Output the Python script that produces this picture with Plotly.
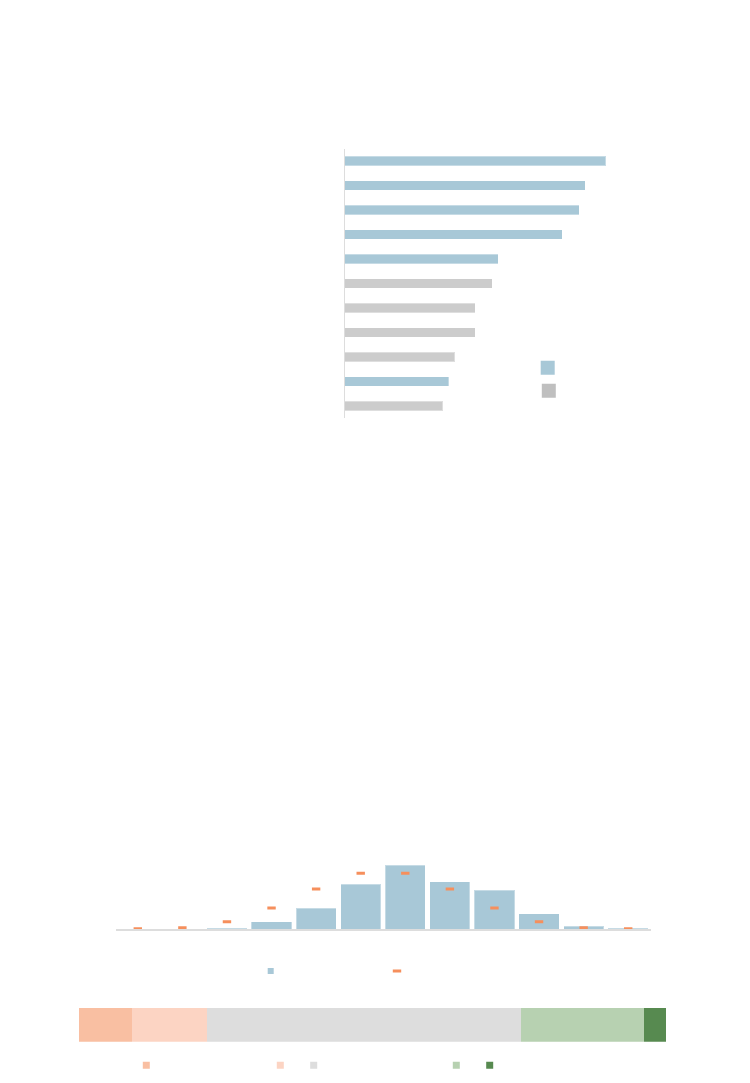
import plotly.graph_objects as go

W, H = 750, 1083
OFF = 8  # page body margin

# ---- Top chart data (horizontal bars) ----
top_categories = ["A", "B", "C", "D", "E", "F", "G", "H", "I", "J", "K"]
top_values = [87, 80.3, 78.3, 72.5, 51.3, 49.3, 43.5, 43.5, 36.8, 34.8, 32.8]
top_group = ["blue", "blue", "blue", "blue", "blue", "gray", "gray", "gray", "gray", "blue", "gray"]

# ---- Histogram data ----
hist_bins = ["b1", "b2", "b3", "b4", "b5", "b6", "b7", "b8", "b9", "b10", "b11", "b12"]
hist_actual = [0, 0, 0.5, 3.0, 8.4, 18.0, 25.7, 19.0, 15.6, 6.2, 1.2, 0.5]
hist_expected = [0.25, 0.65, 3.0, 8.5, 16.1, 22.4, 22.4, 16.1, 8.5, 3.0, 0.65, 0.25]

# ---- Stacked bar data ----
stack_segments = ["s1", "s2", "s3", "s4", "s5"]
stack_values = [9.0, 12.8, 53.5, 20.9, 3.8]

BLUE = "#a8c8d7"
GRAY = "#cccccc"
GRAY_LEG = "#bfbfbf"
ORANGE = "#f68f5c"
STACK_COLORS = ["#f9bfa2", "#fcd4c3", "#dddddd", "#b7d1b1", "#578a50"]
EDGE = dict(width=1, color="rgba(255,255,255,0.35)")


def px_x(p):
    return (p - OFF) / W


def px_y(p):
    return 1 - (p - OFF) / H


fig = go.Figure()

# top chart
for grp, col in [("blue", BLUE), ("gray", GRAY)]:
    ys = [c for c, g in zip(top_categories, top_group) if g == grp]
    xs = [v for v, g in zip(top_values, top_group) if g == grp]
    fig.add_trace(go.Bar(x=xs, y=ys, orientation="h", width=0.37,
                         marker=dict(color=col, line=EDGE),
                         showlegend=False, xaxis="x", yaxis="y"))
for i, col in enumerate([BLUE, GRAY_LEG]):
    fig.add_trace(go.Scatter(x=[None], y=[None], mode="markers", name="",
                             marker=dict(symbol="square", size=14, color=col),
                             xaxis="x", yaxis="y", legend=f"legend{i+2}"))

# histogram
fig.add_trace(go.Bar(x=hist_bins, y=hist_actual, width=0.9,
                     marker=dict(color=BLUE, line=EDGE),
                     showlegend=False, xaxis="x2", yaxis="y2"))
fig.add_trace(go.Scatter(x=hist_bins, y=hist_expected, mode="markers", name="",
                         marker=dict(symbol="line-ew", size=6, color=ORANGE,
                                     line=dict(color=ORANGE, width=3)),
                         xaxis="x2", yaxis="y2", legend="legend5"))
fig.add_trace(go.Scatter(x=[None], y=[None], mode="markers", name="",
                         marker=dict(symbol="square", size=6, color=BLUE),
                         xaxis="x2", yaxis="y2", legend="legend4"))

# stacked bar
for i, (seg, val) in enumerate(zip(stack_segments, stack_values)):
    fig.add_trace(go.Bar(x=[val], y=["all"], orientation="h", width=1,
                         marker=dict(color=STACK_COLORS[i], line=dict(width=0)),
                         showlegend=False, xaxis="x3", yaxis="y3"))
    fig.add_trace(go.Scatter(x=[None], y=[None], mode="markers", name="",
                             marker=dict(symbol="square", size=7, color=STACK_COLORS[i]),
                             xaxis="x3", yaxis="y3", legend=f"legend{i+6}"))

hidden = dict(showticklabels=False, showgrid=False, zeroline=False, ticks="")

layout = dict(
    width=W, height=H, margin=dict(l=0, r=0, t=0, b=0),
    paper_bgcolor="white", plot_bgcolor="white",
    barmode="stack",
    font=dict(family="Noto Sans", size=12, color="#333"),
    xaxis=dict(domain=[px_x(344.5), px_x(644.5)], range=[0, 100], anchor="y", **hidden),
    yaxis=dict(domain=[px_y(418.25), px_y(148.75)], categoryorder="array", anchor="x",
               categoryarray=top_categories, range=[10.5, -0.5],
               showline=True, linecolor="#dddddd", linewidth=1, **hidden),
    xaxis2=dict(domain=[px_x(115.5), px_x(650.5)], range=[-0.5, 11.5], anchor="y2",
                showline=True, linecolor="#dddddd", linewidth=1.5, **hidden),
    yaxis2=dict(domain=[px_y(929.3), px_y(854.3)], range=[0, 30], anchor="x2", **hidden),
    xaxis3=dict(domain=[px_x(79), px_x(666.3)], range=[0, 100], anchor="y3", **hidden),
    yaxis3=dict(domain=[px_y(1041.7), px_y(1008)], range=[-0.5, 0.5], anchor="x3", **hidden),
)

LEG_DX = 20  # symbol centre offset from legend left edge
legend_pos = {
    2: (547.7, 367.7), 3: (548.8, 390.8),
    4: (270.7, 971), 5: (397, 971),
    6: (146.3, 1065.3), 7: (280.3, 1065.3), 8: (313.7, 1065.3),
    9: (456.3, 1065.3), 10: (489.7, 1065.3),
}
for n, (lx, ly) in legend_pos.items():
    layout[f"legend{n}"] = dict(x=px_x(lx - LEG_DX), y=px_y(ly), xanchor="left", yanchor="middle",
                                bgcolor="rgba(0,0,0,0)", borderwidth=0)

fig.update_layout(**layout)
fig.write_html("out.html")
